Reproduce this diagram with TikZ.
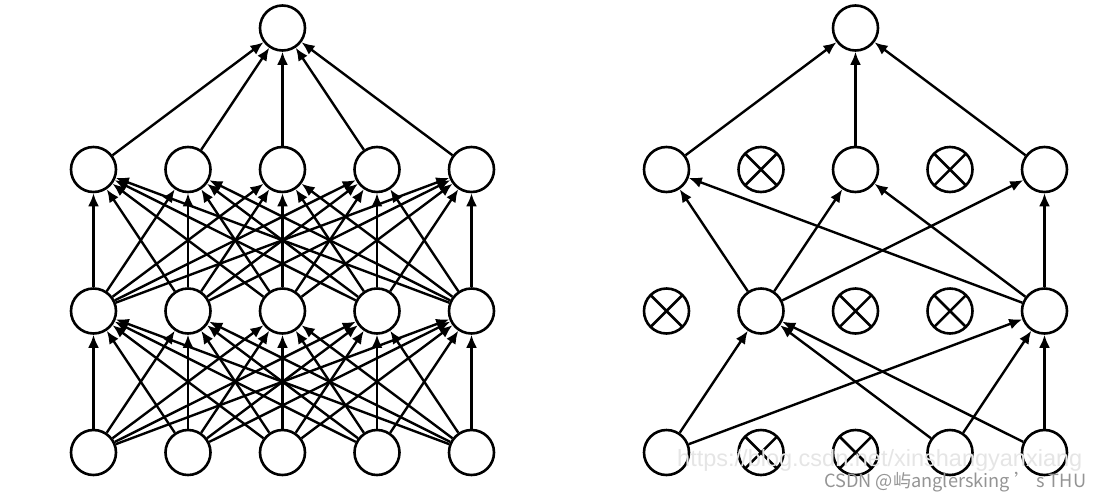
\documentclass[tikz,border=0pt]{standalone}
\usepackage{fontspec}
\usepackage{graphicx}
\setmainfont{Liberation Sans}
\newfontfamily\cjk{Noto Sans CJK SC}
\usetikzlibrary{arrows.meta}
\tikzset{
  neuron/.style={circle, draw=black, line width=2.6pt, minimum size=45pt, inner sep=0pt, fill=white},
  dropped/.style={neuron, path picture={
      \draw[line width=2.5pt] (path picture bounding box.south west) -- (path picture bounding box.north east)
                            (path picture bounding box.north west) -- (path picture bounding box.south east);}},
  conn/.style={line width=2.4pt, -{Latex[length=13pt,width=11pt]}}
}
\begin{document}
\begin{tikzpicture}[x=1pt,y=-1pt]
\useasboundingbox (0,0) rectangle (1102,501);
% ---------- left network ----------
\node[neuron] (Lt) at (282.5,28) {};
\foreach \i in {1,...,5}{
  \pgfmathsetmacro{\xx}{93.5+94.5*(\i-1)}
  \node[neuron] (La\i) at (\xx,169.5) {};
  \node[neuron] (Lb\i) at (\xx,311) {};
  \node[neuron] (Lc\i) at (\xx,452.5) {};
}
\foreach \i in {1,...,5}{
  \draw[conn] (La\i) -- (Lt);
  \foreach \j in {1,...,5}{
    \draw[conn] (Lb\i) -- (La\j);
    \draw[conn] (Lc\i) -- (Lb\j);
  }
}
% ---------- right network ----------
\node[neuron] (Rt) at (855.5,28) {};
\node[neuron]  (Ra1) at (666.5,169.5) {};
\node[dropped] (Ra2) at (761,169.5) {};
\node[neuron]  (Ra3) at (855.5,169.5) {};
\node[dropped] (Ra4) at (950,169.5) {};
\node[neuron]  (Ra5) at (1044.5,169.5) {};
\node[dropped] (Rb1) at (666.5,311) {};
\node[neuron]  (Rb2) at (761,311) {};
\node[dropped] (Rb3) at (855.5,311) {};
\node[dropped] (Rb4) at (950,311) {};
\node[neuron]  (Rb5) at (1044.5,311) {};
\node[neuron]  (Rc1) at (666.5,452.5) {};
\node[dropped] (Rc2) at (761,452.5) {};
\node[dropped] (Rc3) at (855.5,452.5) {};
\node[neuron]  (Rc4) at (950,452.5) {};
\node[neuron]  (Rc5) at (1044.5,452.5) {};
\foreach \a in {1,3,5}{ \draw[conn] (Ra\a) -- (Rt); }
\foreach \b in {2,5}{
  \foreach \a in {1,3,5}{ \draw[conn] (Rb\b) -- (Ra\a); }
}
\foreach \c in {1,4,5}{
  \foreach \b in {2,5}{ \draw[conn] (Rc\c) -- (Rb\b); }
}
% ---------- watermark ----------
\node[anchor=west, inner sep=0pt, text=black!10] (wm1) at (677,460)
  {\resizebox{405pt}{!}{https://blog.csdn.net/xinshangyanxiang}};
\node[anchor=west, inner sep=0pt, text=black!42] (wm2) at (824,482)
  {\resizebox{262pt}{!}{\cjk CSDN @屿anglersking ’ s THU}};
\end{tikzpicture}
\end{document}
